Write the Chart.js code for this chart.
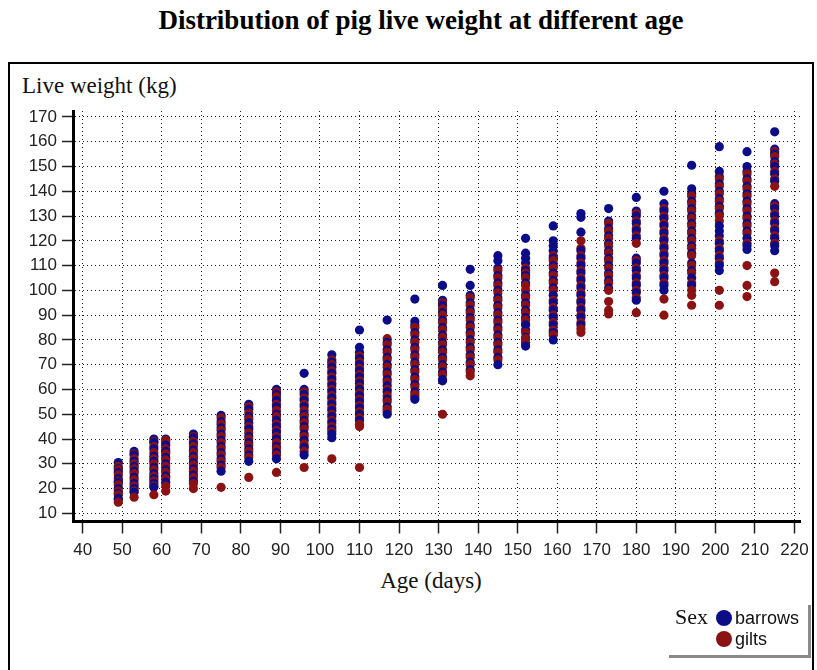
<!DOCTYPE html>
<html>
<head>
<meta charset="utf-8">
<script src="https://cdn.jsdelivr.net/npm/chart.js@4.4.0/dist/chart.umd.min.js"></script>
<style>
body { margin: 0; background: #fff; width: 817px; height: 670px; overflow: hidden; position: relative; }
#Title { position: absolute; left: 0; top: 5px; width: 842px; text-align: center; font: bold 27px "Liberation Serif", "Times New Roman", serif; color: #000; }
#Frame { position: absolute; left: 8px; top: 62px; width: 806px; height: 700px; border: 2px solid #000; box-sizing: border-box; }
#YTitle { position: absolute; left: 22px; top: 73px; font: 23px "Liberation Serif", serif; color: #111; }
#XTitle { position: absolute; left: 0; width: 862px; top: 568px; text-align: center; font: 23px "Liberation Serif", serif; color: #111; }
#ScatterChart { position: absolute; left: 0; top: 0; }
#LegendBox { position: absolute; left: 669px; top: 605px; width: 142px; height: 53px; background: #fff; border-right: 3px solid #8a8a8a; border-bottom: 3px solid #8a8a8a; box-sizing: border-box; }
.lgText { position: absolute; font: 18px "Liberation Sans", Arial, sans-serif; color: #111; }
.lgDot { position: absolute; width: 16px; height: 16px; border-radius: 50%; }
</style>
</head>
<body>
<div id="Title">Distribution of pig live weight at different age</div>
<div id="Frame"></div>
<div id="YTitle">Live weight (kg)</div>
<div id="XTitle">Age (days)</div>
<canvas id="ScatterChart" width="817" height="670"></canvas>
<div id="LegendBox">
	<div class="lgText" style="left:6px; top:-1px; font:22px 'Liberation Serif', serif;">Sex</div>
	<div class="lgDot" style="left:47px; top:5px; background:#0c0c86;"></div>
	<div class="lgText" style="left:66px; top:3px;">barrows</div>
	<div class="lgDot" style="left:47px; top:26px; background:#8a1212;"></div>
	<div class="lgText" style="left:66px; top:24px;">gilts</div>
</div>

<script>
var ages = [49, 53, 58, 61, 68, 75, 82, 89, 96, 103, 110, 117, 124, 131, 138, 145, 152, 159, 166, 173, 180, 187, 194, 201, 208, 215];

var barrowWeights = [
	[30.5, 28, 26.5, 24, 22.5, 20, 18, 16, 15.5],
	[35, 33.5, 31, 29, 27, 24.5, 22, 20, 18.5],
	[40, 38.5, 36, 33, 31, 28.5, 26, 24, 22, 20.5],
	[40, 37.5, 35, 32.5, 30, 27.5, 25, 22.5],
	[42, 40.5, 38, 35.5, 33, 30.5, 28, 25.5, 23],
	[49.5, 47, 44.5, 42, 39.5, 37, 34.5, 32, 29.5, 27],
	[54, 52, 49, 46.5, 44, 41, 38.5, 36, 33.5, 31],
	[60, 58, 55.5, 53, 50, 47.5, 45, 42.5, 40, 37, 34.5, 32],
	[66.5, 60, 58, 55.5, 53, 50, 47.5, 45, 42, 39.5, 36.5, 33.5],
	[74, 71, 69, 66.5, 64, 61.5, 59, 56.5, 54, 51.5, 49, 46.5, 44, 42, 40.5],
	[84, 77, 75, 72.5, 70, 67.5, 65, 62.5, 60, 57.5, 55, 52.5, 50, 47.5],
	[88, 79, 76, 73, 70, 67, 64, 61.5, 59, 56, 53, 50],
	[96.5, 87.5, 86, 83, 80, 77, 74, 71, 68, 65, 62, 59, 56],
	[102, 96, 94, 91, 88, 85, 82, 79, 76, 73, 70, 67, 64, 63.5],
	[108.5, 102, 98, 95, 92, 89, 86, 83, 80, 77, 74, 71, 68],
	[114, 112, 109, 106, 103, 100, 97, 94, 91, 88, 85, 82, 79, 76, 73, 70],
	[121, 115, 113, 111, 108, 106, 103, 98, 95, 92, 89, 86, 84, 81, 79, 77.5],
	[126, 120, 118, 116, 113, 110, 107, 104, 101, 98, 95, 92, 89, 86, 83, 80],
	[131, 129.5, 123.5, 116, 113, 110, 107, 104, 101, 98, 95, 92, 89, 86],
	[133, 128, 125, 122, 119, 116, 113, 110, 107, 104, 101],
	[137.5, 132, 130, 127, 124, 121, 113, 111, 108, 105, 102, 99, 96],
	[140, 135, 132, 129, 126, 123, 120, 117, 114, 111, 108, 105, 102, 100],
	[150.5, 141, 139, 136, 133, 130, 127, 124, 121, 118, 115, 111, 108, 105, 102],
	[158, 148, 146, 143, 140, 137, 134, 131, 126, 124, 122, 119, 116, 113, 110, 108],
	[156, 150, 148, 145, 142, 139, 136, 133, 130, 127, 124, 121, 118, 116.5],
	[164, 157, 155, 152, 150, 147, 144, 135, 133, 130, 127, 124, 121, 118, 116]
];

var giltWeights = [
	[29, 27.5, 25.5, 23, 21.5, 19, 17.5, 14.5],
	[34, 32, 30, 28, 26, 23.5, 21, 19, 16.5],
	[39, 37, 34.5, 32, 30, 27.5, 25, 23, 21, 17.5],
	[39.5, 38.5, 36, 34, 31.5, 29, 26.5, 24, 21, 19],
	[41, 39, 37, 34.5, 32, 29.5, 27, 24.5, 22, 20],
	[48.5, 46, 43.5, 41, 38.5, 36, 33.5, 31, 28.5, 20.5],
	[53, 50.5, 48, 45, 42.5, 40, 37.5, 35, 32.5, 24.5],
	[59, 57, 54, 51.5, 49, 46, 43.5, 41, 38.5, 36, 33.5, 26.5],
	[59, 56.5, 54, 51.5, 49, 46.5, 44, 41, 38, 37, 35, 28.5],
	[72, 70, 67.5, 65, 62.5, 60, 57.5, 55, 52.5, 50, 47.5, 45, 43, 32],
	[73.5, 71, 68.5, 66, 63.5, 61, 58.5, 56, 53.5, 51, 48.5, 46, 45, 28.5],
	[80.5, 78, 75, 72, 69, 66, 63, 60, 57.5, 55, 52, 51],
	[85, 82, 79, 76, 73, 70, 67, 64, 61, 58, 57],
	[95, 92.5, 90, 87, 84, 81, 78, 75, 72, 69, 66, 50],
	[97, 94, 91, 88, 85, 82, 79, 76, 73, 70, 67, 65.5],
	[108, 105, 102, 99, 96, 93, 90, 87, 84, 81, 78, 75, 72],
	[109, 107, 105, 102, 100, 97, 94, 91, 88, 86.5, 83, 80.5, 79],
	[114, 112, 109, 106, 103, 100, 96, 93, 90, 87, 84, 82],
	[120, 117, 114, 111, 108, 105, 102, 99, 96, 93, 90, 87, 84.5, 83],
	[127, 124, 121, 118, 115, 112, 109, 106, 103, 100, 95.5, 92, 90.5],
	[131, 128, 125, 122, 119, 112, 109, 106, 103, 100, 97, 91],
	[133, 130, 127, 124, 121, 118, 115, 112, 109, 106, 103, 96.5, 90],
	[138, 135, 132, 129, 126, 123, 120, 117, 114, 110, 107, 103, 100, 98, 94],
	[145, 142, 139, 136, 133, 130, 128, 120, 117, 114, 111, 100, 94],
	[147, 144, 141, 138, 135, 132, 129, 126, 123, 119, 110, 102, 97.5],
	[156, 154, 151, 148, 145, 142, 134, 131, 128, 125, 122, 119, 107, 103.5]
];

var xTicks = [40, 50, 60, 70, 80, 90, 100, 110, 120, 130, 140, 150, 160, 170, 180, 190, 200, 210, 220];
var yTicks = [10, 20, 30, 40, 50, 60, 70, 80, 90, 100, 110, 120, 130, 140, 150, 160, 170];

var sexColors = ['#0c0c88', '#8a1212'];


// merge both sexes per age, drawn from heavy to light so the colours interleave
var points = [];
var pointColors = [];
for (let i = 0; i < ages.length; i++) {
	var col = [];
	barrowWeights[i].forEach(w => col.push([w, 0]));
	giltWeights[i].forEach(w => col.push([w, 1]));
	col.sort((a, b) => b[0] - a[0]);
	col.forEach(p => {
		points.push({x: ages[i], y: p[0]});
		pointColors.push(sexColors[p[1]]);
	});
}

var tickFont = {family: "'Liberation Sans', Arial, sans-serif", size: 17};

new Chart(document.getElementById("ScatterChart"), {
	type: 'scatter',
	data: {
		datasets: [{
			label: 'Sex',
			data: points,
			pointRadius: 4.6,
			pointBorderWidth: 0,
			pointBackgroundColor: pointColors,
			pointBorderColor: pointColors
		}]
	},
	options: {
		responsive: false,
		animation: false,
		events: [],
		layout: {padding: {left: 0, top: 111, right: 17, bottom: 0}},
		plugins: {legend: {display: false}, tooltip: {enabled: false}},
		scales: {
			x: {
				type: 'linear',
				min: 37.55,
				max: 221.4,
				afterBuildTicks: s => { s.ticks = xTicks.map(v => ({value: v})); },
				afterFit: s => { s.height = 148.5; },
				grid: {color: '#222', lineWidth: 1, tickLength: 12, tickColor: '#222', tickWidth: 1.5},
				border: {display: true, color: '#000', width: 3, dash: [1, 3]},
				ticks: {font: tickFont, color: '#222', padding: 7, maxRotation: 0, autoSkip: false}
			},
			y: {
				type: 'linear',
				min: 6.7,
				max: 172.4,
				afterBuildTicks: s => { s.ticks = yTicks.map(v => ({value: v})); },
				afterFit: s => { s.width = 73; },
				grid: {color: '#222', lineWidth: 1, tickLength: 11, tickColor: '#222', tickWidth: 1.5},
				border: {display: true, color: '#000', width: 3, dash: [1, 3]},
				ticks: {font: tickFont, color: '#222', padding: 5, autoSkip: false}
			}
		}
	}
});
</script>
</body>
</html>
